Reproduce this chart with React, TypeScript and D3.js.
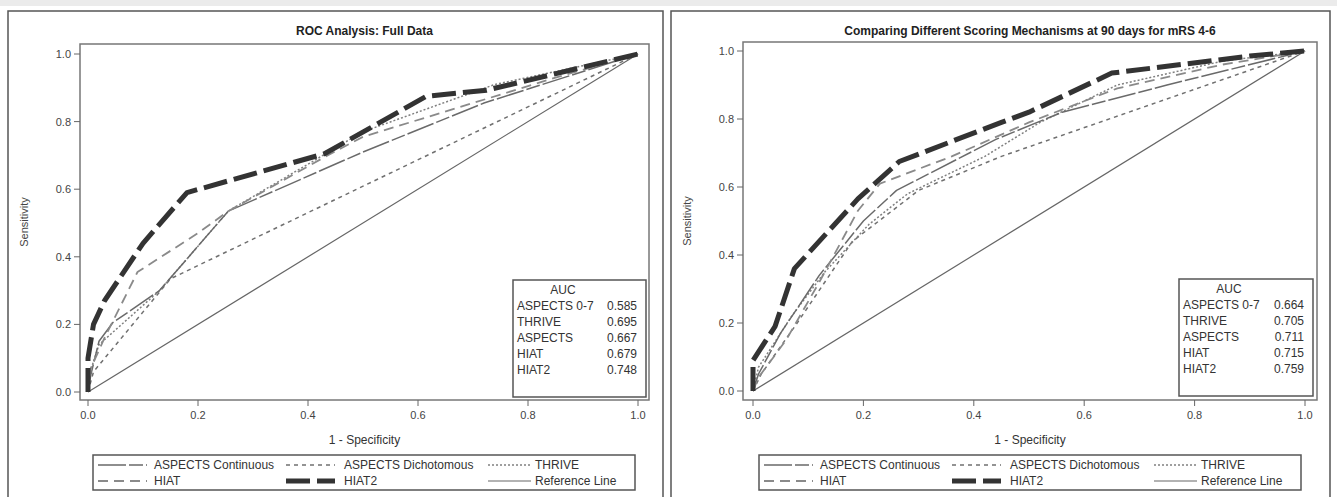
import * as d3 from 'd3'

// ROC curves, points are [1 - specificity, sensitivity]
const seriesNames = ['ASPECTS Continuous', 'ASPECTS Dichotomous', 'THRIVE', 'HIAT', 'HIAT2', 'Reference Line']
const tickValues = [0, 0.2, 0.4, 0.6, 0.8, 1.0]
const aucLabels = ['ASPECTS 0-7', 'THRIVE', 'ASPECTS', 'HIAT', 'HIAT2']
const aucFull = ['0.585', '0.695', '0.667', '0.679', '0.748']
const auc90 = ['0.664', '0.705', '0.711', '0.715', '0.759']

const referenceLine: [number, number][] = [[0, 0], [1, 1]]

const fullAspectsCont: [number, number][] = [[0, 0], [0.005, 0.05], [0.02, 0.15], [0.045, 0.205], [0.13, 0.3], [0.255, 0.535], [0.5, 0.71], [0.72, 0.855], [1, 1]]
const fullAspectsDich: [number, number][] = [[0, 0], [0.01, 0.06], [0.15, 0.335], [1, 1]]
const fullThrive: [number, number][] = [[0, 0], [0, 0.04], [0.02, 0.14], [0.13, 0.3], [0.255, 0.535], [0.5, 0.77], [0.74, 0.91], [1, 1]]
const fullHiat: [number, number][] = [[0, 0], [0.005, 0.07], [0.03, 0.16], [0.09, 0.355], [0.2, 0.47], [0.255, 0.535], [0.43, 0.695], [0.5, 0.755], [0.85, 0.93], [1, 1]]
const fullHiat2: [number, number][] = [[0, 0], [0, 0.1], [0.01, 0.2], [0.03, 0.27], [0.1, 0.44], [0.18, 0.59], [0.43, 0.705], [0.615, 0.875], [0.725, 0.893], [1, 1]]

const d90AspectsCont: [number, number][] = [[0, 0], [0.01, 0.05], [0.05, 0.17], [0.12, 0.34], [0.2, 0.5], [0.26, 0.59], [0.44, 0.74], [0.56, 0.82], [0.75, 0.9], [1, 1]]
const d90AspectsDich: [number, number][] = [[0, 0], [0.015, 0.05], [0.08, 0.2], [0.18, 0.44], [0.3, 0.59], [0.45, 0.69], [1, 1]]
const d90Thrive: [number, number][] = [[0, 0], [0.01, 0.07], [0.07, 0.22], [0.13, 0.35], [0.21, 0.49], [0.28, 0.58], [0.42, 0.69], [0.52, 0.79], [0.66, 0.9], [0.85, 0.97], [1, 1]]
const d90Hiat: [number, number][] = [[0, 0], [0.01, 0.04], [0.06, 0.15], [0.12, 0.32], [0.19, 0.53], [0.23, 0.61], [0.36, 0.69], [0.5, 0.79], [0.66, 0.89], [0.85, 0.96], [1, 1]]
const d90Hiat2: [number, number][] = [[0, 0], [0, 0.09], [0.04, 0.19], [0.075, 0.36], [0.19, 0.565], [0.265, 0.675], [0.45, 0.79], [0.5, 0.82], [0.65, 0.935], [0.9, 0.985], [1, 1]]

// line styles in legend order
const styles = [
  { stroke: '#6a6a6a', width: 1.5, dash: '28 3 14 3' },
  { stroke: '#707070', width: 1.5, dash: '4 4' },
  { stroke: '#808080', width: 1.5, dash: '2 2' },
  { stroke: '#8a8a8a', width: 1.8, dash: '10 6' },
  { stroke: '#333', width: 5, dash: '24 7' },
  { stroke: '#666', width: 1.2, dash: null },
]

const FONT = '"Liberation Sans", Arial, sans-serif'

function Panel({ ox, frame, xr, yr, title, curves, auc, aucBox, legendX }) {
  const x = d3.scaleLinear().domain([0, 1]).range(xr)
  const y = d3.scaleLinear().domain([0, 1]).range(yr)
  const line = d3.line<[number, number]>().x(d => x(d[0])).y(d => y(d[1]))
  const cx = (frame.x0 + frame.x1) / 2
  const cy = (frame.y0 + frame.y1) / 2
  const drawOrder = [5, 1, 2, 0, 3, 4]
  const legendCols = [[5, 54, 61], [193, 242, 251], [395, 438, 442]]

  return (
    <g fontFamily={FONT}>
      {/* outer panel border */}
      <rect x={ox.x0} y={11} width={ox.x1 - ox.x0} height={500} fill="white" stroke="#555" strokeWidth={1.5} />
      <text x={cx} y={35} textAnchor="middle" fontSize={12} fontWeight="bold" fill="#222">{title}</text>

      {/* plot frame */}
      <rect x={frame.x0} y={frame.y0} width={frame.x1 - frame.x0} height={frame.y1 - frame.y0} fill="white" stroke="#777" strokeWidth={1.5} />

      {/* y axis */}
      {tickValues.map(t => (
        <g key={'y' + t}>
          <line x1={frame.x0 - 6} x2={frame.x0} y1={y(t)} y2={y(t)} stroke="#666" />
          <text x={frame.x0 - 9} y={y(t) + 4} textAnchor="end" fontSize={11} fill="#444">{d3.format('.1f')(t)}</text>
        </g>
      ))}
      <text transform={`translate(${ox.x0 + 20},${cy}) rotate(-90)`} textAnchor="middle" fontSize={11} fill="#444">Sensitivity</text>

      {/* x axis */}
      {tickValues.map(t => (
        <g key={'x' + t}>
          <line x1={x(t)} x2={x(t)} y1={frame.y1} y2={frame.y1 + 6} stroke="#666" />
          <text x={x(t)} y={frame.y1 + 19} textAnchor="middle" fontSize={11} fill="#444">{d3.format('.1f')(t)}</text>
        </g>
      ))}
      <text x={cx} y={444} textAnchor="middle" fontSize={12} fill="#333">1 - Specificity</text>

      {/* curves */}
      {drawOrder.map(i => (
        <path key={i} d={line(curves[i]) || ''} fill="none" stroke={styles[i].stroke}
          strokeWidth={styles[i].width} strokeDasharray={styles[i].dash || undefined} strokeLinejoin="round" />
      ))}

      {/* AUC inset */}
      <rect x={aucBox.x} y={aucBox.y} width={aucBox.w} height={117} fill="white" stroke="#555" strokeWidth={1.5} />
      <text x={aucBox.x + 50} y={aucBox.y + 14} textAnchor="middle" fontSize={12} fill="#333">AUC</text>
      {aucLabels.map((lab, i) => (
        <g key={lab} fontSize={12} fill="#333">
          <text x={aucBox.x + 4} y={aucBox.y + 30 + i * 16}>{lab}</text>
          <text x={aucBox.x + aucBox.w - 9} y={aucBox.y + 30 + i * 16} textAnchor="end">{auc[i]}</text>
        </g>
      ))}

      {/* legend */}
      <rect x={legendX} y={455} width={542} height={35} fill="white" stroke="#555" strokeWidth={1.5} />
      {seriesNames.map((name, i) => {
        const col = legendCols[i % 3]
        const ry = 455 + (i < 3 ? 10 : 26)
        return (
          <g key={name}>
            <line x1={legendX + col[0]} x2={legendX + col[1]} y1={ry} y2={ry} stroke={styles[i].stroke}
              strokeWidth={styles[i].width} strokeDasharray={styles[i].dash || undefined} />
            <text x={legendX + col[2]} y={ry + 4} fontSize={12} fill="#333">{name}</text>
          </g>
        )
      })}
    </g>
  )
}

export default function App() {
  const fullCurves = [fullAspectsCont, fullAspectsDich, fullThrive, fullHiat, fullHiat2, referenceLine]
  const d90Curves = [d90AspectsCont, d90AspectsDich, d90Thrive, d90Hiat, d90Hiat2, referenceLine]
  return (
    <svg width={1337} height={497} style={{ position: 'absolute', left: 0, top: 0, background: 'white' }}>
      <rect x={0} y={0} width={1337} height={6} fill="#ebebeb" />
      <Panel
        ox={{ x0: 8, x1: 663 }}
        frame={{ x0: 80, x1: 649, y0: 44, y1: 400 }}
        xr={[88, 638]} yr={[392, 54]}
        title="ROC Analysis: Full Data"
        curves={fullCurves} auc={aucFull}
        aucBox={{ x: 513, y: 280, w: 133 }}
        legendX={93}
      />
      <Panel
        ox={{ x0: 671, x1: 1330 }}
        frame={{ x0: 743, x1: 1317, y0: 42, y1: 400 }}
        xr={[753, 1305]} yr={[391, 51]}
        title="Comparing Different Scoring Mechanisms at 90 days for mRS 4-6"
        curves={d90Curves} auc={auc90}
        aucBox={{ x: 1179, y: 279, w: 134 }}
        legendX={759}
      />
    </svg>
  )
}
